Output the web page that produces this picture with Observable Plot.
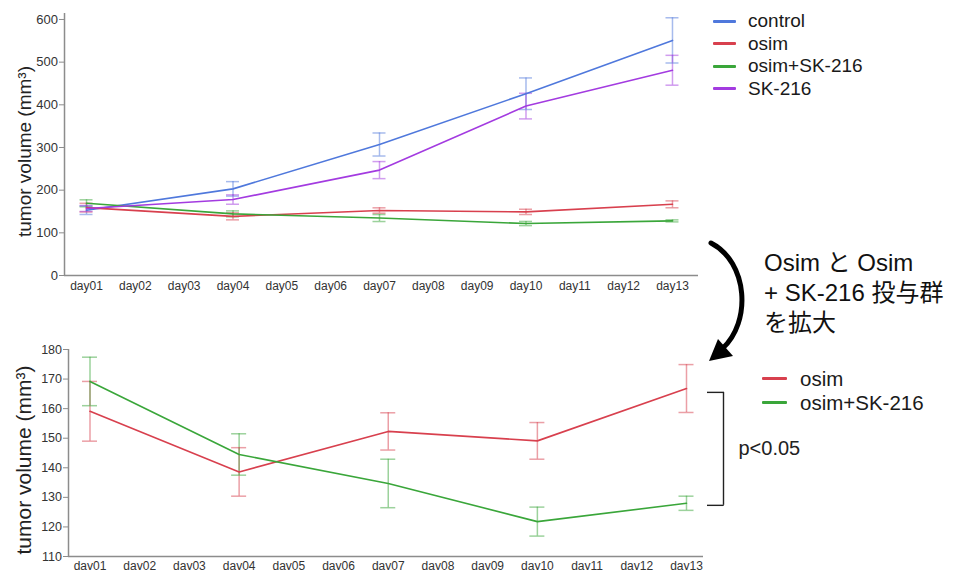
<!DOCTYPE html>
<html>
<head>
<meta charset="utf-8">
<script src="https://cdn.jsdelivr.net/npm/d3@7"></script>
<script src="https://cdn.jsdelivr.net/npm/@observablehq/plot@0.6"></script>
<style>
  html, body { margin: 0; padding: 0; background: #fff; overflow: hidden; }
  #page { position: relative; width: 969px; height: 570px; font-family: "Liberation Sans", Arial, sans-serif; color: #222; }
  .abs { position: absolute; }
  .legend-row { position: absolute; display: flex; align-items: center; white-space: nowrap; }
  .swatch { display: inline-block; height: 3px; border-radius: 1px; }
  .note { position: absolute; font-size: 24px; line-height: 30px; white-space: nowrap; color: #111;
          font-family: "Liberation Sans", Arial, "Noto Sans CJK JP", sans-serif; }
</style>
</head>
<body>
<div id="page">
  <div id="top" class="abs" style="left:0;top:0"></div>
  <div id="bottom" class="abs" style="left:0;top:330px"></div>
  <div id="legendTop"></div>
  <div id="legendBottom"></div>
  <div class="note" style="left:764px;top:248px">Osim と Osim<br>+ SK-216 投与群<br>を拡大</div>
  <svg class="abs" style="left:690px;top:230px" width="70" height="140" viewBox="690 230 70 140">
    <path d="M711,243 C748,262 752,322 722,349" fill="none" stroke="#000" stroke-width="5" stroke-linecap="round"/>
    <path d="M709,361 L718,339 L733,356 Z" fill="#000"/>
  </svg>
</div>
<script>
// Sampling days shown on the axis and the days tumours were measured
const days = ["day01","day02","day03","day04","day05","day06","day07","day08","day09","day10","day11","day12","day13"];
const measuredDays = ["day01","day04","day07","day10","day13"];

// Group names and colours
const groups = ["control","osim","osim+SK-216","SK-216"];
const colors = ["#4f78dc","#d8404e","#3aa63a","#a33be0"];

// Mean tumour volume (mm³) and error per measured day
const controlMean = [153, 203, 307, 426, 551];
const controlErr  = [10, 17, 27, 37, 53];
const osimMean    = [159.1, 138.6, 152.3, 149.1, 166.8];
const osimErr     = [10.1, 8.2, 6.3, 6.2, 8.1];
const osimSkMean  = [169.2, 144.5, 134.7, 121.8, 128.0];
const osimSkErr   = [8.2, 7.0, 8.2, 4.9, 2.4];
const skMean      = [157, 178, 247, 397, 481];
const skErr       = [7, 11, 20, 30, 35];

// Axis ticks
const topTicks = [0, 100, 200, 300, 400, 500, 600];
const bottomTicks = [110, 120, 130, 140, 150, 160, 170, 180];

// Significance bracket at day13 (upper, lower) and its label
const bracket = [165.5, 127.3];
const sigLabel = "p<0.05";
const yTitle = "tumor volume (mm³)";

const seriesTable = [
  ["control", controlMean, controlErr],
  ["osim", osimMean, osimErr],
  ["osim+SK-216", osimSkMean, osimSkErr],
  ["SK-216", skMean, skErr]
];
const rows = seriesTable.flatMap(([group, mean, err]) =>
  measuredDays.map((day, i) => ({group, day, value: mean[i], err: err[i]})));

const axisGray = "#8c8c8c";
const font = "'Liberation Sans', Arial, sans-serif";

// vertical error bar with caps of the given width, centred on each band
function errorMarks(data, bandwidth, capWidth) {
  const inset = (bandwidth - capWidth) / 2;
  const style = {stroke: "group", strokeOpacity: 0.5, strokeWidth: 1.5};
  return [
    Plot.ruleX(data, {x: "day", y1: d => d.value - d.err, y2: d => d.value + d.err, ...style}),
    Plot.tickY(data, {x: "day", y: d => d.value - d.err, inset, ...style}),
    Plot.tickY(data, {x: "day", y: d => d.value + d.err, inset, ...style})
  ];
}

// Upper chart: all four groups
const T = {width: 969, marginLeft: 64, marginRight: 271, insetLeft: -2.4, insetRight: 1.6};
const topBand = (T.width - T.marginLeft - T.marginRight - T.insetLeft - T.insetRight) / days.length;
const topPlot = Plot.plot({
  width: T.width, height: 300,
  marginTop: 13, marginBottom: 25, marginLeft: T.marginLeft, marginRight: T.marginRight,
  style: {fontFamily: font, color: "#333", overflow: "visible", background: "transparent"},
  x: {type: "band", domain: days, padding: 0, round: false, insetLeft: T.insetLeft, insetRight: T.insetRight, axis: null},
  y: {domain: [0, 614], axis: null},
  color: {domain: groups, range: colors},
  marks: [
    Plot.ruleY([0], {stroke: axisGray, strokeWidth: 1.5}),
    Plot.ruleX([days[0]], {dx: -22, stroke: axisGray, strokeWidth: 1.5}),
    Plot.axisX({tickSize: 0, tickPadding: 6, fontSize: 12, label: null}),
    Plot.axisY({ticks: topTicks, tickSize: 5, tickPadding: 1.5, fontSize: 13, stroke: axisGray, label: null}),
    Plot.text([yTitle], {frameAnchor: "left", textAnchor: "middle", rotate: -90, dx: -40, dy: 7, fontSize: 19, fill: "#222"}),
    ...errorMarks(rows, topBand, 13),
    Plot.line(rows, {x: "day", y: "value", stroke: "group", strokeWidth: 1.6})
  ]
});
document.getElementById("top").appendChild(topPlot);

// Lower chart: osim vs osim+SK-216 on a zoomed scale
const lowRows = rows.filter(d => d.group === "osim" || d.group === "osim+SK-216");
const day13 = days[days.length - 1];
const B = {width: 969, marginLeft: 68, marginRight: 266, insetLeft: -3.35, insetRight: -7.85};
const bottomBand = (B.width - B.marginLeft - B.marginRight - B.insetLeft - B.insetRight) / days.length;
const bottomPlot = Plot.plot({
  width: B.width, height: 260,
  marginTop: 19, marginBottom: 34, marginLeft: B.marginLeft, marginRight: B.marginRight,
  style: {fontFamily: font, color: "#333", overflow: "visible", background: "transparent"},
  x: {type: "band", domain: days, padding: 0, round: false, insetLeft: B.insetLeft, insetRight: B.insetRight, axis: null},
  y: {domain: [110, 180], axis: null},
  color: {domain: groups, range: colors},
  marks: [
    Plot.ruleY([110], {stroke: axisGray, strokeWidth: 1.5}),
    Plot.ruleX([days[0]], {dx: -21.5, stroke: axisGray, strokeWidth: 1.5}),
    Plot.axisX({tickSize: 0, tickPadding: 5, fontSize: 12, label: null}),
    Plot.axisY({ticks: bottomTicks, tickSize: 5, tickPadding: 1.5, fontSize: 12.5, stroke: axisGray, label: null}),
    Plot.text([yTitle], {frameAnchor: "left", textAnchor: "middle", rotate: -90, dx: -44, dy: 7, fontSize: 21, fill: "#222"}),
    ...errorMarks(lowRows, bottomBand, 15),
    Plot.line(lowRows, {x: "day", y: "value", stroke: "group", strokeWidth: 1.6}),
    // significance bracket to the right of day13
    Plot.ruleX([day13], {y1: bracket[0], y2: bracket[1], dx: 37, stroke: "#222", strokeWidth: 1.4}),
    Plot.tickY(bracket, {x: () => day13, y: d => d, insetLeft: bottomBand / 2 + 21, insetRight: bottomBand / 2 - 37.7, stroke: "#222", strokeWidth: 1.4}),
    Plot.text([sigLabel], {x: () => day13, y: () => (bracket[0] + bracket[1]) / 2, dx: 52, textAnchor: "start", fontSize: 20, fill: "#222"})
  ]
});
document.getElementById("bottom").appendChild(bottomPlot);

// Legends
function legend(id, names, top, step, lineLeft, lineWidth, textLeft, fontSize) {
  const box = document.getElementById(id);
  names.forEach((name, i) => {
    const row = document.createElement("div");
    row.className = "legend-row";
    row.style.left = lineLeft + "px";
    row.style.top = (top + i * step - fontSize * 0.6) + "px";
    row.style.height = (fontSize * 1.2) + "px";
    const sw = document.createElement("span");
    sw.className = "swatch";
    sw.style.width = lineWidth + "px";
    sw.style.background = colors[groups.indexOf(name)];
    const tx = document.createElement("span");
    tx.textContent = name;
    tx.style.fontSize = fontSize + "px";
    tx.style.marginLeft = (textLeft - lineLeft - lineWidth) + "px";
    tx.style.color = "#1a1a1a";
    row.appendChild(sw);
    row.appendChild(tx);
    box.appendChild(row);
  });
}
legend("legendTop", groups, 21.5, 22.5, 713, 23, 748, 19);
legend("legendBottom", ["osim", "osim+SK-216"], 379, 24, 762, 25, 800, 20.5);
</script>
</body>
</html>
